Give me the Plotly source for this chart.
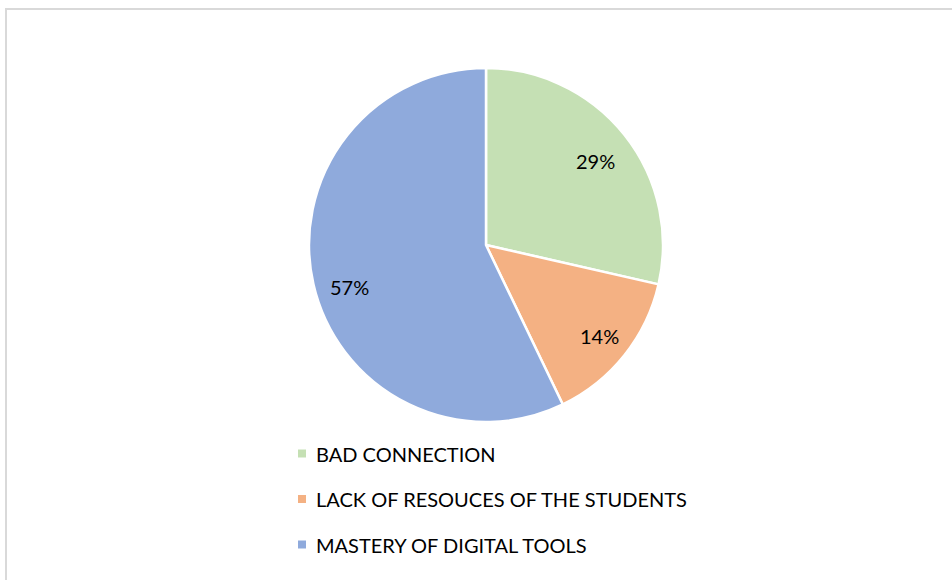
import math
import plotly.graph_objects as go

# Survey answers (counts per reason)
labels = ["BAD CONNECTION", "LACK OF RESOUCES OF THE STUDENTS", "MASTERY OF DIGITAL TOOLS"]
counts = [2, 1, 4]
colors = ["#C5E0B4", "#F4B183", "#8FAADC"]

W, H = 952, 580
cx, cy, r = 486, 245, 177  # pie centre and radius in pixels

fig = go.Figure(go.Pie(
    labels=labels,
    values=counts,
    sort=False,
    direction="clockwise",
    rotation=0,
    marker=dict(colors=colors, line=dict(color="white", width=2.5)),
    textinfo="none",
    hoverinfo="label+percent",
    domain=dict(x=[(cx - r) / W, (cx + r) / W], y=[1 - (cy + r) / H, 1 - (cy - r) / H]),
    showlegend=False,
))

font_family = "Lato, Carlito, Calibri, sans-serif"

# Percentage labels near the middle angle of each slice (small pixel nudges for placement)
label_nudge = [(-1, 4), (3, 3.5), (1, 11)]
total = sum(counts)
cum = 0
annotations = []
for v, (ndx, ndy) in zip(counts, label_nudge):
    mid = (cum + v / 2) / total * 2 * math.pi
    cum += v
    px = cx + 0.795 * r * math.sin(mid) + ndx
    py = cy - 0.795 * r * math.cos(mid) + ndy
    annotations.append(dict(
        x=px / W, y=1 - py / H, xref="paper", yref="paper",
        text=f"{round(100 * v / total)}%", showarrow=False,
        font=dict(family=font_family, size=20, color="#000000"),
        xanchor="center", yanchor="middle",
    ))

# Legend: coloured square + label, one row per category
shapes = []
lx, ly0, dy = 302, 453.5, 45.5
for i, (lab, col) in enumerate(zip(labels, colors)):
    y = ly0 + i * dy
    shapes.append(dict(type="rect", xref="paper", yref="paper",
                       x0=(lx - 4) / W, x1=(lx + 4) / W,
                       y0=1 - (y + 4) / H, y1=1 - (y - 4) / H,
                       fillcolor=col, line=dict(width=0)))
    annotations.append(dict(
        x=314 / W, y=1 - y / H, xref="paper", yref="paper",
        text=lab, showarrow=False,
        font=dict(family=font_family, size=20, color="#000000"),
        xanchor="left", yanchor="middle",
    ))

# Chart-area frame
shapes.append(dict(type="rect", xref="paper", yref="paper",
                   x0=6 / W, x1=1.02, y0=1 - 9 / H, y1=-0.02,
                   line=dict(color="#D9D9D9", width=2), fillcolor="rgba(0,0,0,0)"))

fig.update_layout(
    width=W, height=H,
    margin=dict(l=0, r=0, t=0, b=0),
    paper_bgcolor="white",
    plot_bgcolor="white",
    annotations=annotations,
    shapes=shapes,
)

fig.write_html("out.html")
